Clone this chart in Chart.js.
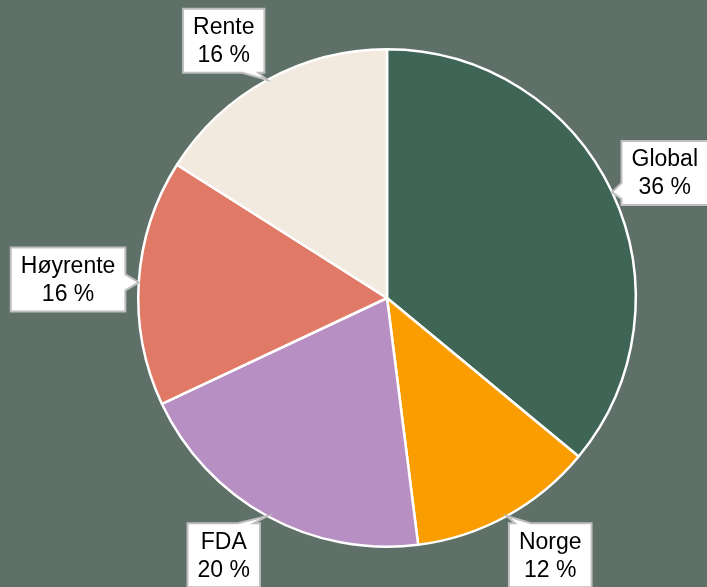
<!DOCTYPE html>
<html>
<head>
<meta charset="utf-8">
<script src="https://cdn.jsdelivr.net/npm/chart.js@4"></script>
<style>
html,body{margin:0;padding:0;background:#5f7068;}
#wrap{width:707px;height:587px;}
</style>
</head>
<body>
<div id="wrap"><canvas id="c" width="707" height="587"></canvas></div>
<script>
const categories = ["Global", "Norge", "FDA", "Høyrente", "Rente"];
const values = [36, 12, 20, 16, 16];
const colors = ["#3e6556", "#fa9d00", "#b88fc2", "#e07a66", "#f2eadf"];

const calloutPlugin = {
  id: 'callouts',
  afterDatasetsDraw(chart) {
    const ctx = chart.ctx;
    const meta = chart.getDatasetMeta(0);
    const total = values.reduce((a, b) => a + b, 0);
    ctx.save();
    ctx.font = '23px "Liberation Sans", Arial, sans-serif';
    meta.data.forEach((arc, i) => {
      const p = arc.getProps(['x', 'y', 'startAngle', 'endAngle', 'outerRadius'], true);
      const mid = (p.startAngle + p.endAngle) / 2;
      const cx = Math.cos(mid), cy = Math.sin(mid);
      const r = p.outerRadius;
      const tipX = p.x + cx * r, tipY = p.y + cy * r;
      const l1 = categories[i];
      const l2 = Math.round(values[i] / total * 100) + ' %';
      const tw = Math.max(ctx.measureText(l1).width, ctx.measureText(l2).width);
      const lh = 28;
      const w = tw + 20, h = lh * 2 + 8;
      const R = r * 1.18;
      let bx = p.x + cx * R + Math.sign(cx) * 18 + cx * 8;
      const by = p.y + cy * R;
      bx = Math.max(w / 2 + 1, Math.min(chart.width - w / 2 + 1, bx));
      const L = bx - w / 2, T = by - h / 2, Rt = L + w, B = T + h;
      const ox = Math.max(L - tipX, tipX - Rt, 0);
      const oy = Math.max(T - tipY, tipY - B, 0);
      const bw = 8;
      const clamp = (v, a, b) => Math.max(a, Math.min(b, v));
      ctx.beginPath();
      if (ox >= oy) {
        const m = clamp(tipY, T + 14, B - 14);
        if (tipX < L) {
          ctx.moveTo(L, T); ctx.lineTo(Rt, T); ctx.lineTo(Rt, B); ctx.lineTo(L, B);
          ctx.lineTo(L, m + bw); ctx.lineTo(tipX, tipY); ctx.lineTo(L, m - bw); ctx.closePath();
        } else {
          ctx.moveTo(L, T); ctx.lineTo(Rt, T); ctx.lineTo(Rt, m - bw); ctx.lineTo(tipX, tipY);
          ctx.lineTo(Rt, m + bw); ctx.lineTo(Rt, B); ctx.lineTo(L, B); ctx.closePath();
        }
      } else {
        const m = clamp(tipX, L + 14, Rt - 14);
        if (tipY < T) {
          ctx.moveTo(L, T); ctx.lineTo(m - bw, T); ctx.lineTo(tipX, tipY); ctx.lineTo(m + bw, T);
          ctx.lineTo(Rt, T); ctx.lineTo(Rt, B); ctx.lineTo(L, B); ctx.closePath();
        } else {
          ctx.moveTo(L, T); ctx.lineTo(Rt, T); ctx.lineTo(Rt, B); ctx.lineTo(m + bw, B);
          ctx.lineTo(tipX, tipY); ctx.lineTo(m - bw, B); ctx.lineTo(L, B); ctx.closePath();
        }
      }
      ctx.fillStyle = '#ffffff';
      ctx.fill();
      ctx.lineWidth = 2;
      ctx.strokeStyle = '#bfbfbf';
      ctx.stroke();
      ctx.fillStyle = '#000000';
      ctx.textAlign = 'center';
      ctx.textBaseline = 'middle';
      ctx.fillText(l1, bx, by - lh / 2 + 1);
      ctx.fillText(l2, bx, by + lh / 2 + 1);
    });
    ctx.restore();
  }
};

new Chart(document.getElementById('c'), {
  type: 'pie',
  data: {
    labels: categories,
    datasets: [{
      data: values,
      backgroundColor: colors,
      borderColor: '#ffffff',
      borderWidth: 2.5
    }]
  },
  options: {
    responsive: false,
    animation: false,
    layout: { padding: { left: 137, right: 70, top: 48, bottom: 39 } },
    plugins: { legend: { display: false }, tooltip: { enabled: false } }
  },
  plugins: [calloutPlugin]
});
</script>
</body>
</html>
